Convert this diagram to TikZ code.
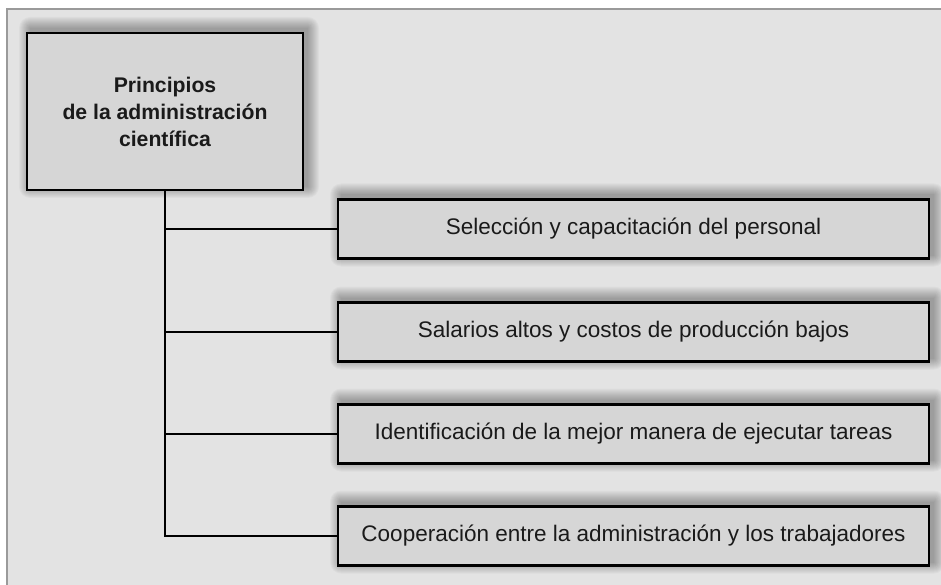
\documentclass[tikz,border=0pt]{standalone}
\usepackage{fontspec}
\setmainfont{Liberation Sans}
\pgfdeclarelayer{bottomlayer}
\pgfdeclarelayer{shadowlayer}
\pgfsetlayers{bottomlayer,shadowlayer,main}
\definecolor{bgcol}{HTML}{E3E3E3}
\definecolor{boxcol}{HTML}{D6D6D6}
\definecolor{edgecol}{HTML}{9A9A9A}
\definecolor{txtcol}{HTML}{1A1A1A}
\tikzset{
  boxstyle/.style={draw=black, line width=2.7pt, fill=boxcol, text=txtcol,
    inner sep=0pt, outer sep=0pt},
  itembox/.style={boxstyle, minimum width=591pt, minimum height=59pt,
    font=\fontsize{22.5pt}{27pt}\selectfont},
  titlebox/.style={boxstyle, minimum width=276pt, minimum height=157pt, align=center,
    font=\fontsize{21.2pt}{27pt}\selectfont\bfseries},
  connector/.style={draw=black, line width=2.2pt},
  shadowpiece/.style={fill=black, opacity=0.028}
}
\newcommand{\softshadow}[1]{%
  \foreach \r in {0,1,...,11}{%
    \fill[shadowpiece, rounded corners=\r pt]
      ([shift={(3-\r,3-\r)}]#1.south west) rectangle ([shift={(5+\r,5+\r)}]#1.north east);
  }%
}
\begin{document}
\begin{tikzpicture}[x=1pt, y=1pt]
\useasboundingbox (0,0) rectangle (941,-585);
% frame
\begin{pgfonlayer}{bottomlayer}
\fill[white] (0,0) rectangle (941,-585);
\fill[bgcol] (6,-9) rectangle (941,-585);
\draw[edgecol, line width=2pt] (7,-585) -- (7,-9) -- (941,-9);
\end{pgfonlayer}
% nodes
\node[titlebox] (main) at (165,-111.5) {Principios\\ de la administración\\ científica};
\node[itembox] (b1) at (633.5,-229) {Selección y capacitación del personal};
\node[itembox] (b2) at (633.5,-332) {Salarios altos y costos de producción bajos};
\node[itembox] (b3) at (633.5,-434) {Identificación de la mejor manera de ejecutar tareas};
\node[itembox] (b4) at (633.5,-536) {Cooperación entre la administración y los trabajadores};
% shadows
\begin{pgfonlayer}{shadowlayer}
\softshadow{main}
\softshadow{b1}
\softshadow{b2}
\softshadow{b3}
\softshadow{b4}
\end{pgfonlayer}
% connectors
\draw[connector] (main.south) -- (main.south |- b4.west) -- (b4.west);
\draw[connector] (main.south |- b1.west) -- (b1.west);
\draw[connector] (main.south |- b2.west) -- (b2.west);
\draw[connector] (main.south |- b3.west) -- (b3.west);
\end{tikzpicture}
\end{document}
